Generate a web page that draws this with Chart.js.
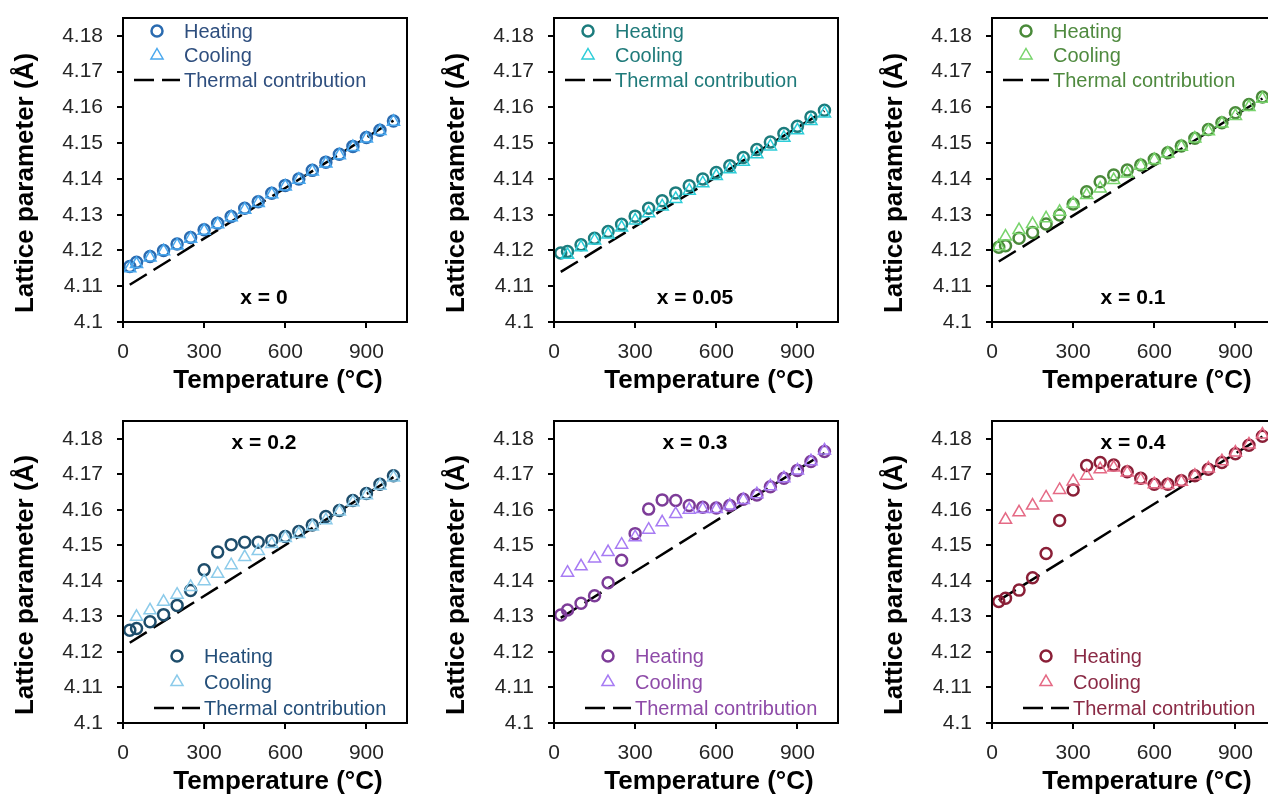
<!DOCTYPE html>
<html lang="en">
<head>
<meta charset="UTF-8">
<title>Lattice parameter vs temperature</title>
<script src="https://cdn.jsdelivr.net/npm/chart.js@4.4.1/dist/chart.umd.min.js"></script>
<style>
  html, body { margin: 0; padding: 0; background: #fff; overflow: hidden; width: 1268px; height: 796px; position: relative; }
  canvas { position: absolute; }
</style>
</head>
<body>
<canvas id="p0" width="430" height="400" style="left:0;top:0"></canvas>
<canvas id="p1" width="430" height="400" style="left:431px;top:0"></canvas>
<canvas id="p2" width="430" height="400" style="left:869px;top:0"></canvas>
<canvas id="p3" width="430" height="400" style="left:0;top:403px"></canvas>
<canvas id="p4" width="430" height="400" style="left:431px;top:403px"></canvas>
<canvas id="p5" width="430" height="400" style="left:869px;top:403px"></canvas>
<script>
// temperatures (°C)
const temps = [25, 50, 100, 150, 200, 250, 300, 350, 400, 450, 500, 550, 600, 650, 700, 750, 800, 850, 900, 950, 1000];
const thermalT = [25, 1000];

// lattice parameter (Å), one pair of series per composition
const heat0 = [4.1155, 4.1167, 4.1183, 4.1200, 4.1218, 4.1236, 4.1258, 4.1276, 4.1295, 4.1318, 4.1336, 4.1360, 4.1382, 4.1400, 4.1424, 4.1447, 4.1469, 4.1491, 4.1516, 4.1536, 4.1562];
const cool0 = [4.1150, 4.1162, 4.1180, 4.1198, 4.1214, 4.1233, 4.1255, 4.1273, 4.1293, 4.1314, 4.1333, 4.1357, 4.1379, 4.1398, 4.1421, 4.1443, 4.1466, 4.1489, 4.1513, 4.1534, 4.1560];
const thermal0 = [4.1104, 4.1563];

const heat1 = [4.1193, 4.1197, 4.1216, 4.1234, 4.1253, 4.1273, 4.1296, 4.1318, 4.1339, 4.1361, 4.1381, 4.1400, 4.1418, 4.1437, 4.1460, 4.1482, 4.1503, 4.1527, 4.1547, 4.1573, 4.1592];
const cool1 = [null, 4.1188, 4.1209, 4.1228, 4.1245, 4.1264, 4.1284, 4.1304, 4.1323, 4.1344, 4.1367, 4.1388, 4.1408, 4.1427, 4.1448, 4.1469, 4.1491, 4.1515, 4.1536, 4.1562, 4.1583];
const thermal1 = [4.1140, 4.1590];

const heat2 = [4.1209, 4.1213, 4.1234, 4.1250, 4.1274, 4.1299, 4.1330, 4.1364, 4.1392, 4.1411, 4.1425, 4.1439, 4.1455, 4.1473, 4.1492, 4.1514, 4.1538, 4.1557, 4.1585, 4.1608, 4.1629];
const cool2 = [4.1212, 4.1239, 4.1257, 4.1274, 4.1290, 4.1308, 4.1331, 4.1355, 4.1373, 4.1397, 4.1415, 4.1437, 4.1453, 4.1471, 4.1490, 4.1513, 4.1533, 4.1555, 4.1576, 4.1601, 4.1624];
const thermal2 = [4.1169, 4.1625];

const heat3 = [4.1261, 4.1266, 4.1285, 4.1305, 4.1331, 4.1373, 4.1431, 4.1481, 4.1502, 4.1509, 4.1509, 4.1514, 4.1525, 4.1539, 4.1557, 4.1581, 4.1598, 4.1626, 4.1646, 4.1672, 4.1696];
const cool3 = [null, 4.1299, 4.1317, 4.1341, 4.1361, 4.1383, 4.1399, 4.1420, 4.1444, 4.1467, 4.1484, 4.1504, 4.1521, 4.1532, 4.1553, 4.1571, 4.1595, 4.1621, 4.1641, 4.1668, 4.1691];
const thermal3 = [4.1226, 4.1692];

const heat4 = [4.1304, 4.1318, 4.1337, 4.1358, 4.1395, 4.1458, 4.1533, 4.1602, 4.1628, 4.1626, 4.1612, 4.1607, 4.1605, 4.1612, 4.1630, 4.1642, 4.1665, 4.1689, 4.1711, 4.1736, 4.1764];
const cool4 = [null, 4.1423, 4.1441, 4.1463, 4.1481, 4.1502, 4.1523, 4.1544, 4.1565, 4.1588, 4.1600, 4.1602, 4.1602, 4.1612, 4.1628, 4.1644, 4.1666, 4.1689, 4.1711, 4.1737, 4.1767];
const thermal4 = [4.1296, 4.1760];

const heat5 = [4.1342, 4.1351, 4.1374, 4.1409, 4.1477, 4.1570, 4.1656, 4.1725, 4.1733, 4.1726, 4.1707, 4.1689, 4.1672, 4.1672, 4.1682, 4.1696, 4.1714, 4.1733, 4.1758, 4.1782, 4.1807];
const cool5 = [null, 4.1572, 4.1593, 4.1612, 4.1635, 4.1656, 4.1680, 4.1696, 4.1714, 4.1719, 4.1705, 4.1684, 4.1672, 4.1670, 4.1679, 4.1696, 4.1716, 4.1737, 4.1761, 4.1784, 4.1812];
const thermal5 = [4.1345, 4.1806];

const panelLabels = ['x = 0', 'x = 0.05', 'x = 0.1', 'x = 0.2', 'x = 0.3', 'x = 0.4'];
const seriesNames = ['Heating', 'Cooling', 'Thermal contribution'];
const xTicks = [0, 300, 600, 900];
const yTicks = [4.1, 4.11, 4.12, 4.13, 4.14, 4.15, 4.16, 4.17, 4.18];

const FONT = "'Liberation Sans', Arial, sans-serif";

// draws frame, axis titles, composition label and the in-plot legend
const panelDeco = {
  id: 'panelDeco',
  afterDraw(chart, args, o) {
    const ctx = chart.ctx, a = chart.chartArea;
    ctx.save();
    ctx.strokeStyle = '#000';
    ctx.lineWidth = 2;
    ctx.strokeRect(a.left, a.top, a.right - a.left, a.bottom - a.top);

    ctx.fillStyle = '#000';
    ctx.textAlign = 'center';
    ctx.textBaseline = 'middle';
    ctx.font = 'bold 26px ' + FONT;
    ctx.fillText('Temperature (°C)', (a.left + a.right) / 2 + 13, a.bottom + 59);
    ctx.save();
    ctx.translate(26, (a.top + a.bottom) / 2 + 13);
    ctx.rotate(-Math.PI / 2);
    ctx.fillText('Lattice parameter (Å)', 0, 0);
    ctx.restore();

    ctx.font = 'bold 21px ' + FONT;
    ctx.fillText(o.label, a.left + o.labelX, a.top + o.labelY);

    // legend
    ctx.textAlign = 'left';
    ctx.font = '20px ' + FONT;
    chart.data.datasets.forEach((ds, i) => {
      const mx = a.left + o.legX, my = a.top + o.legY + i * o.legGap;
      ctx.strokeStyle = ds.borderColor;
      ctx.lineWidth = ds.borderWidth;
      ctx.beginPath();
      if (ds.showLine) {
        ctx.setLineDash(ds.borderDash);
        ctx.moveTo(mx - 23, my);
        ctx.lineTo(mx + 23, my);
      } else if (ds.pointStyle === 'triangle') {
        const r = ds.pointRadius;
        ctx.moveTo(mx, my - r);
        ctx.lineTo(mx + r * 0.866, my + r / 2);
        ctx.lineTo(mx - r * 0.866, my + r / 2);
        ctx.closePath();
      } else {
        ctx.arc(mx, my, ds.pointRadius, 0, Math.PI * 2);
      }
      ctx.stroke();
      ctx.setLineDash([]);
      ctx.fillStyle = o.textColor;
      ctx.fillText(ds.label, mx + 27, my + 1);
    });
    ctx.restore();
  }
};

function pts(xs, ys) {
  return xs.map((x, i) => ({ x: x, y: ys[i] })).filter(p => p.y !== null);
}

function noOverhang(s) {
  s.paddingTop = 0; s.paddingBottom = 0; s.paddingLeft = 0; s.paddingRight = 0;
}

function makePanel(id, heat, cool, thermal, col, label, deco, bottomPad) {
  new Chart(document.getElementById(id), {
    type: 'scatter',
    data: {
      datasets: [
        { label: seriesNames[0], data: pts(temps, heat), pointStyle: 'circle', pointRadius: 5.5,
          borderWidth: 2.5, borderColor: col.heat, backgroundColor: 'transparent', order: 2 },
        { label: seriesNames[1], data: pts(temps, cool), pointStyle: 'triangle', pointRadius: 7,
          borderWidth: 1.5, borderColor: col.cool, backgroundColor: 'transparent', order: 1 },
        { label: seriesNames[2], data: pts(thermalT, thermal), showLine: true, pointRadius: 0,
          borderColor: '#000', borderWidth: 2.5, borderDash: [20, 8], order: 3 }
      ]
    },
    options: {
      responsive: false,
      animation: false,
      devicePixelRatio: 1,
      layout: { padding: { top: 18, right: 23, bottom: bottomPad, left: 0 } },
      plugins: {
        legend: { display: false },
        tooltip: { enabled: false },
        panelDeco: Object.assign({ label: label, textColor: col.text }, deco)
      },
      scales: {
        x: {
          type: 'linear', min: 0, max: 1050,
          afterBuildTicks: s => { s.ticks = xTicks.map(v => ({ value: v })); },
          afterFit: s => { s.height = 60; noOverhang(s); },
          grid: { display: true, drawOnChartArea: false, drawTicks: true, tickLength: 6, color: '#000', lineWidth: 2 },
          border: { display: true, color: '#000', width: 2 },
          ticks: { font: { family: FONT, size: 21 }, color: '#262626', padding: 12, maxRotation: 0, autoSkip: false }
        },
        y: {
          type: 'linear', min: 4.1, max: 4.185,
          afterBuildTicks: s => { s.ticks = yTicks.map(v => ({ value: v })); },
          afterFit: s => { s.width = 123; noOverhang(s); },
          grid: { display: true, drawOnChartArea: false, drawTicks: true, tickLength: 6, color: '#000', lineWidth: 2 },
          border: { display: true, color: '#000', width: 2 },
          ticks: { font: { family: FONT, size: 21 }, color: '#262626', padding: 14, autoSkip: false,
                   callback: v => String(+v.toFixed(2)) }
        }
      }
    },
    plugins: [panelDeco]
  });
}

const topDeco = { labelX: 141, labelY: 280, legX: 34, legY: 13, legGap: 24.5 };
const botDeco = { labelX: 141, labelY: 22, legX: 54, legY: 235, legGap: 26 };

makePanel('p0', heat0, cool0, thermal0, { heat: '#2A6BB0', cool: '#4AA8EE', text: '#2E4E7E' }, panelLabels[0], topDeco, 18);
makePanel('p1', heat1, cool1, thermal1, { heat: '#1C7C7D', cool: '#2CCDD8', text: '#1F7A7A' }, panelLabels[1], topDeco, 18);
makePanel('p2', heat2, cool2, thermal2, { heat: '#4A8A3A', cool: '#78D46C', text: '#4F8A3F' }, panelLabels[2], topDeco, 18);
makePanel('p3', heat3, cool3, thermal3, { heat: '#1E4D6B', cool: '#8CCBEA', text: '#234E79' }, panelLabels[3], botDeco, 20);
makePanel('p4', heat4, cool4, thermal4, { heat: '#7D3C98', cool: '#A77BF3', text: '#8E4BA8' }, panelLabels[4], botDeco, 20);
makePanel('p5', heat5, cool5, thermal5, { heat: '#8A1F37', cool: '#E56A85', text: '#8A2A45' }, panelLabels[5], botDeco, 20);
</script>
</body>
</html>
